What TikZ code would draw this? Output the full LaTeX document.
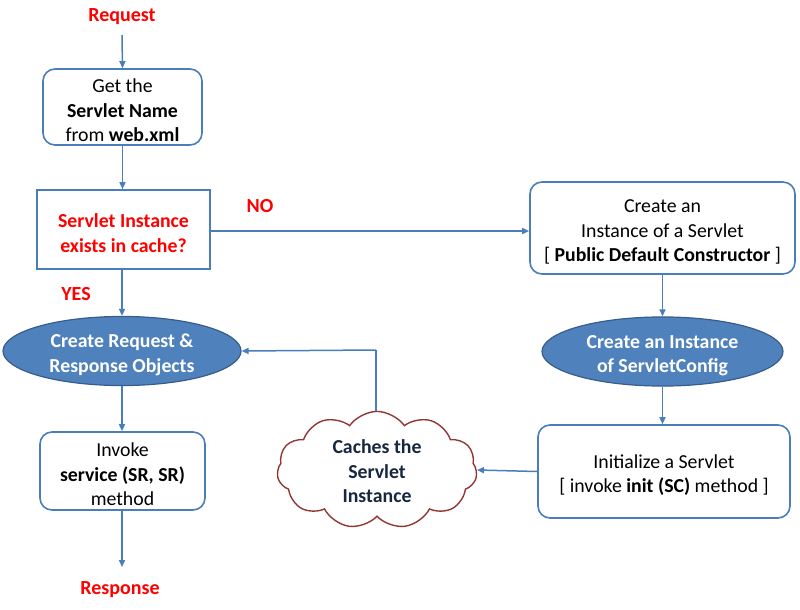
\documentclass[tikz,border=0pt]{standalone}
\usepackage{fontspec}
\setmainfont{Carlito}
\usetikzlibrary{arrows.meta,shapes.geometric,shapes.symbols}
\definecolor{bl}{HTML}{4A7EBB}
\definecolor{ellf}{HTML}{4F81BD}
\definecolor{elld}{HTML}{385D8A}
\definecolor{cloudc}{HTML}{943634}
\definecolor{navy}{HTML}{17273F}
\definecolor{rd}{HTML}{FF0000}
\newcommand\fl{\rule{0pt}{21pt}}
\tikzset{
  box/.style={draw=bl,line width=1.6pt,fill=white,align=center,inner sep=0pt,font=\fontsize{19.8}{24.5}\selectfont},
  rbox/.style={box,rounded corners=12pt},
  oval/.style={ellipse,draw=elld,line width=1.2pt,fill=ellf,text=white,align=center,inner sep=0pt,font=\bfseries\fontsize{19.8}{24.5}\selectfont},
  lbl/.style={text=rd,font=\bfseries\fontsize{20}{22}\selectfont,inner sep=0pt},
  arr/.style={draw=bl,line width=1.5pt,-{Triangle[length=7pt,width=6pt]}},
  ln/.style={draw=bl,line width=1.5pt}
}
\begin{document}
\begin{tikzpicture}[x=1pt,y=-1pt]
\useasboundingbox (0,0) rectangle (800,610);
\node[lbl] (req) at (122,17) {Request};
\node[rbox,minimum width=159pt,minimum height=76pt] (get) at (122.5,107) {\fl Get the\\\textbf{Servlet Name}\\from \textbf{web.xml}};
\node[box,minimum width=173pt,minimum height=79pt,text=rd,font=\bfseries\fontsize{19.8}{24.5}\selectfont] (ex) at (123.5,229.5) {\fl Servlet Instance\\exists in cache?};
\node[lbl] (no) at (260,206) {NO};
\node[lbl] (yes) at (76,294) {YES};
\node[rbox,minimum width=265pt,minimum height=92pt] (cr) at (662.5,228) {\fl Create an\\Instance of a Servlet\\{[} \textbf{Public Default Constructor} ]};
\node[oval,minimum width=241pt,minimum height=67pt] (sc) at (662.5,351.5) {\fl Create an Instance\\of ServletConfig};
\node[rbox,minimum width=252pt,minimum height=93pt] (init) at (664,471.5) {\fl Initialize a Servlet\\{[} invoke \textbf{init (SC)} method ]};
\node[cloud,cloud puffs=11,cloud puff arc=110,aspect=2,draw=cloudc,line width=1.4pt,fill=white,minimum width=200pt,minimum height=100pt,inner sep=0pt,text=navy,align=center,font=\bfseries\fontsize{19.8}{24.5}\selectfont] (cache) at (377,470) {\rule{0pt}{17pt}Caches the\\Servlet\\Instance};
\node[oval,minimum width=238pt,minimum height=68pt] (rr) at (122,351) {\fl Create Request \&\\Response Objects};
\node[rbox,minimum width=165pt,minimum height=78pt] (inv) at (122.5,471) {\fl Invoke\\\textbf{service (SR, SR)}\\method};
\node[lbl] (resp) at (120,590) {Response};
\coordinate (c1) at (376,350);
\draw[arr] (122,35) -- (get.north);
\draw[arr] (get.south) -- (ex.north -| get.south);
\draw[arr] (ex.east |- 0,231) -- (cr.west |- 0,231);
\draw[arr] (cr.south) -- (sc.north);
\draw[arr] (sc.south) -- (init.north -| sc.south);
\draw[arr] (init.west) -- (cache.east);
\draw[ln] (cache.north -| c1) -- (c1);
\draw[arr] (c1) -- (rr.east);
\draw[arr] (ex.south -| rr.north) -- (rr.north);
\draw[arr] (rr.south) -- (inv.north -| rr.south);
\draw[arr] (inv.south -| rr.south) -- (122,567);
\end{tikzpicture}
\end{document}
